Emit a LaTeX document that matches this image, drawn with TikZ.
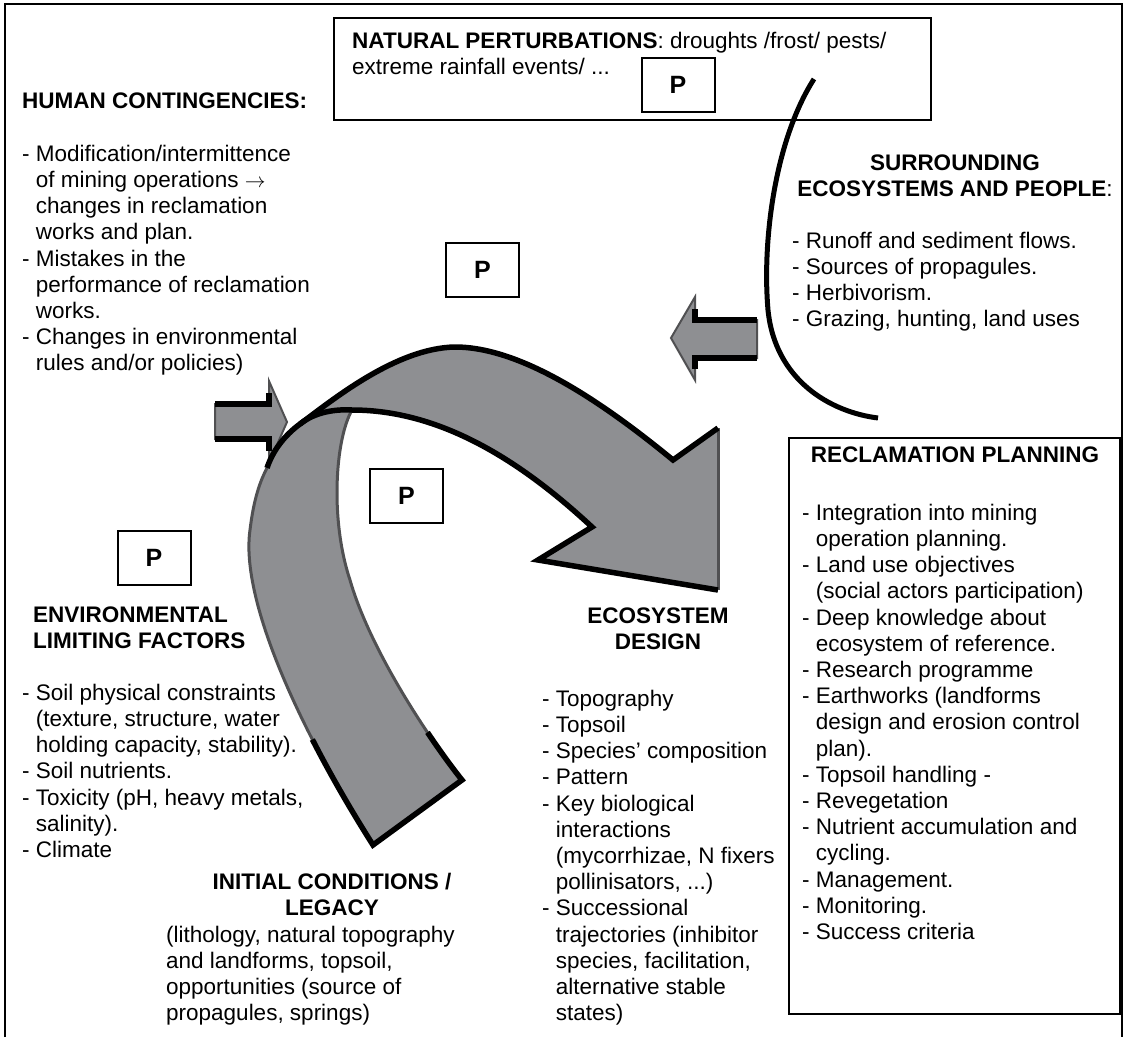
\documentclass[tikz,border=0pt]{standalone}
\usepackage{fontspec}
\setmainfont{Liberation Sans}
\definecolor{ribbon}{RGB}{142,143,146}
\definecolor{edgegray}{RGB}{80,80,82}
\newcommand{\ind}{\hphantom{-\ }}
\newcommand{\fs}{\fontsize{22.5}{26.2}\selectfont}
\newcommand{\topstrut}{\rule{0pt}{20pt}}
\tikzset{
  txt/.style={anchor=north west, inner sep=0pt, align=left, font=\fs},
  btxt/.style={anchor=north west, inner sep=0pt, align=left, font=\fs\bfseries},
  ctxt/.style={anchor=north, inner sep=0pt, align=center, font=\fs\bfseries},
  pbox/.style={draw, line width=2pt, minimum width=73pt, minimum height=54pt, inner sep=0pt, font=\fontsize{25}{28}\selectfont\bfseries},
  framebox/.style={draw, line width=2pt, anchor=north west, inner sep=0pt},
  blackedge/.style={line width=5.5pt, black},
  grayedge/.style={line width=3pt, edgegray},
  arrowfill/.style={fill=ribbon, draw=edgegray, line width=2pt},
}
\begin{document}
\begin{tikzpicture}[x=1pt, y=-1pt]
\useasboundingbox (0,0) rectangle (1125,1037);
% outer frame
\draw[line width=2pt] (5,1037) -- (5,4) -- (1122,4) -- (1122,1037);

% boxes
\node[framebox, minimum width=597pt, minimum height=102pt] (npBox) at (333,17) {};
\node[framebox, minimum width=331pt, minimum height=576pt] (rpBox) at (788,437) {};

% texts
\node[txt] (npT) at (352,28) {\topstrut\textbf{NATURAL PERTURBATIONS}: droughts /frost/ pests/\\extreme rainfall events/ ...};

\node[btxt] (hcH) at (22,88) {\topstrut HUMAN CONTINGENCIES:};
\node[txt] (hcL) at (22,141) {\topstrut- Modification/intermittence\\
\ind of mining operations $\rightarrow$\\
\ind changes in reclamation\\
\ind works and plan.\\
- Mistakes in the\\
\ind performance of reclamation\\
\ind works.\\
- Changes in environmental\\
\ind rules and/or policies)};

\node[ctxt] (seH) at (955,150) {\topstrut SURROUNDING\\ECOSYSTEMS AND PEOPLE\textmd{:}};
\node[txt] (seL) at (792,228) {\topstrut- Runoff and sediment flows.\\
- Sources of propagules.\\
- Herbivorism.\\
- Grazing, hunting, land uses};

\node[ctxt] (rpH) at (955,442) {\topstrut RECLAMATION PLANNING};
\node[txt] (rpL) at (802,500) {\topstrut- Integration into mining\\
\ind operation planning.\\
- Land use objectives\\
\ind (social actors participation)\\
- Deep knowledge about\\
\ind ecosystem of reference.\\
- Research programme\\
- Earthworks (landforms\\
\ind design and erosion control\\
\ind plan).\\
- Topsoil handling -\\
- Revegetation\\
- Nutrient accumulation and\\
\ind cycling.\\
- Management.\\
- Monitoring.\\
- Success criteria};

\node[btxt] (elH) at (33,602) {\topstrut ENVIRONMENTAL\\LIMITING FACTORS};
\node[txt] (elL) at (22,680) {\topstrut- Soil physical constraints\\
\ind (texture, structure, water\\
\ind holding capacity, stability).\\
- Soil nutrients.\\
- Toxicity (pH, heavy metals,\\
\ind salinity).\\
- Climate};

\node[ctxt] (edH) at (658,603) {\topstrut ECOSYSTEM\\DESIGN};
\node[txt] (edL) at (542,686) {\topstrut- Topography\\
- Topsoil\\
- Species’ composition\\
- Pattern\\
- Key biological\\
\ind interactions\\
\ind (mycorrhizae, N fixers\\
\ind pollinisators, ...)\\
- Successional\\
\ind trajectories (inhibitor\\
\ind species,  facilitation,\\
\ind alternative stable\\
\ind states)};

\node[ctxt] (icH) at (332,869) {\topstrut INITIAL CONDITIONS /\\LEGACY};
\node[txt] (icL) at (166,922) {\topstrut(lithology, natural topography\\
and landforms, topsoil,\\
opportunities (source of\\
propagules, springs)};

% small arrows
\path[arrowfill] (215,404) -- (269,404) -- (269,381) -- (287,422) -- (269,463) -- (269,439) -- (215,439) -- cycle;
\draw[blackedge] (215,404) -- (269,404) -- (269,393);
\draw[blackedge] (215,439) -- (269,439) -- (269,451);

\path[arrowfill] (757,320) -- (695,320) -- (695,297) -- (671,338) -- (695,380) -- (695,358) -- (757,358) -- cycle;
\draw[blackedge] (757,320) -- (695,320) -- (695,309);
\draw[blackedge] (757,358) -- (695,358) -- (695,369);

% big ribbon arrow
\coordinate (A) at (373,845);
\coordinate (F) at (462,780);
\coordinate (M) at (250,530);
\coordinate (B) at (267,468);
\coordinate (S) at (300,424);
\coordinate (T) at (455,347);
\coordinate (N1) at (673,460);
\coordinate (H1) at (718,428);
\coordinate (H2) at (718,590);
\coordinate (H3) at (538,560);
\coordinate (N2) at (592,527);
\coordinate (E) at (352,410);
\coordinate (R) at (350,580);
\coordinate (LA) at (312.4,739.5);
\coordinate (RA) at (427.5,732.4);

\fill[ribbon] (A) .. controls (300,730) and (240,600) .. (M)
  .. controls (253,505) and (258,485) .. (B)
  .. controls (273,450) and (285,435) .. (S)
  .. controls (330,402) and (395,348) .. (T)
  .. controls (520,347) and (600,400) .. (N1) -- (H1) -- (H2) -- (H3) -- (N2)
  .. controls (520,460) and (440,410) .. (E)
  .. controls (335,440) and (330,520) .. (R)
  .. controls (370,650) and (430,740) .. (F) -- cycle;

\draw[grayedge] (A) .. controls (300,730) and (240,600) .. (M)
  .. controls (253,505) and (258,485) .. (B);
\draw[grayedge] (E) .. controls (335,440) and (330,520) .. (R)
  .. controls (370,650) and (430,740) .. (F);
\draw[grayedge] (H1) -- (H2);

\draw[blackedge] (B) .. controls (273,450) and (285,435) .. (S)
  .. controls (330,402) and (395,348) .. (T)
  .. controls (520,347) and (600,400) .. (N1) -- (H1);
\draw[blackedge] (S) .. controls (315,412) and (335,409) .. (E)
  .. controls (440,410) and (520,460) .. (N2) -- (H3) -- (H2);
\draw[blackedge] (LA) .. controls (330.4,774.7) and (351.1,810.5) .. (A) -- (F)
  .. controls (452.4,768) and (440.3,751.5) .. (RA);

% surrounding curve
\coordinate (cS) at (814,79);
\coordinate (cM) at (768,310);
\coordinate (cE) at (878,418);
\draw[line width=5pt] (cS) .. controls (775,140) and (762,240) .. (cM)
  .. controls (775,380) and (830,412) .. (cE);

% P boxes
\node[pbox] (pNat) at (678,85) {P};
\node[pbox] (pMid) at (482.5,270) {P};
\node[pbox] (pIn) at (406.5,496) {P};
\node[pbox] (pLeft) at (154,558) {P};
\end{tikzpicture}
\end{document}
